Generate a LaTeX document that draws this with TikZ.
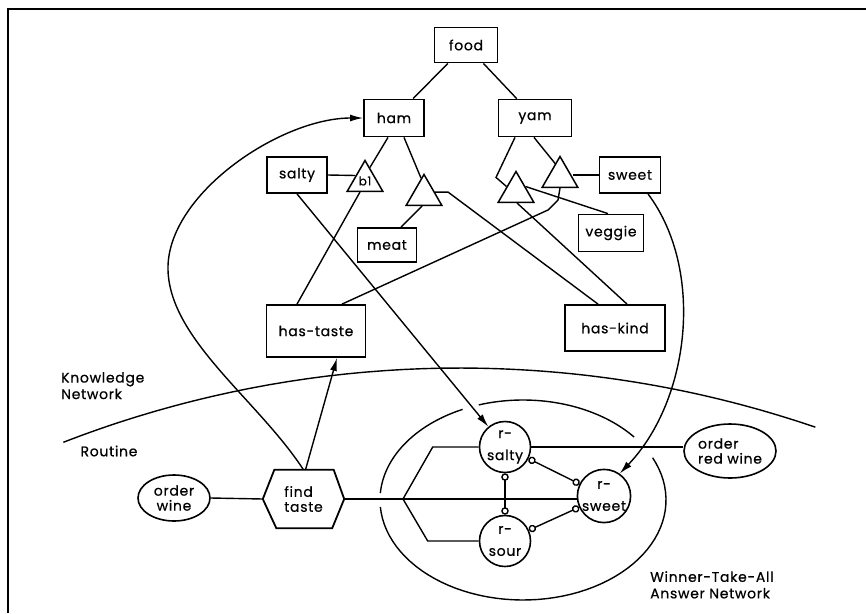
\documentclass[tikz,border=0pt]{standalone}
\usepackage{fontspec}
\setmainfont{Poppins}[LetterSpace=5, FakeBold=0.6]
\usetikzlibrary{arrows.meta,calc,shapes.geometric}
\begin{document}
\begin{tikzpicture}[x=1pt,y=-1pt,
  every node/.style={font=\fontsize{14}{15}\selectfont},
  box/.style={draw, line width=1.8pt, inner sep=0pt},
  tri/.style={draw, regular polygon, regular polygon sides=3, minimum size=41pt, inner sep=0pt, line width=1.5pt},
  rnode/.style={draw, circle, minimum size=51pt, inner sep=0pt, line width=1.6pt, align=center},
  oval/.style={draw, ellipse, inner sep=0pt, line width=1.6pt},
  conn/.style={line width=1.4pt},
  arr/.style={conn, -{Latex[length=13pt,width=7pt]}},
  inh/.style={conn, {Circle[open,length=7.5pt,width=7.5pt]}-{Circle[open,length=7.5pt,width=7.5pt]}},
  lbl/.style={align=left, inner sep=0pt, font=\fontsize{14}{16.5}\selectfont},
]
\useasboundingbox (0,0) rectangle (866,613);
% frame
\draw[line width=1.5pt] (8,613) -- (8,9) -- (866,9);

% knowledge network nodes
\node[box, minimum width=63pt, minimum height=35pt] (food) at (466,45) {food};
\node[box, minimum width=60pt, minimum height=37pt] (ham) at (394,118) {ham};
\node[box, minimum width=73pt, minimum height=37pt] (yam) at (535,118) {yam};
\node[box, minimum width=60pt, minimum height=36pt] (salty) at (297,175) {salty};
\node[box, minimum width=61pt, minimum height=36pt] (sweet) at (630,175) {sweet};
\node[box, minimum width=59pt, minimum height=34pt] (meat) at (387,245) {meat};
\node[box, minimum width=65pt, minimum height=37pt] (veggie) at (611,233) {veggie};
\node[box, minimum width=99pt, minimum height=52pt] (hastaste) at (316,331) {has-taste};
\node[box, minimum width=100pt, minimum height=46pt] (haskind) at (615,328) {has-kind};

\node[tri, font=\fontsize{12}{12}\selectfont] (b1) at (365,181) {b1};
\node[tri] (t2) at (424,195) {};
\node[tri] (tR) at (560,177) {};
\node[tri] (tL) at (516,192) {};

% routine nodes
\node[oval, minimum width=72pt, minimum height=46pt, align=center] (orderwine) at (174,498) {order\\wine};
\node[minimum width=81pt, minimum height=58pt, inner sep=0pt, align=left] (findtaste) at (303.5,499) {find\\taste};
\draw[line width=1.8pt] (findtaste.west) -- ([xshift=11.5pt]findtaste.north west) -- ([xshift=-10.5pt]findtaste.north east) -- (findtaste.east) -- ([xshift=-12pt]findtaste.south east) -- ([xshift=13.5pt]findtaste.south west) -- cycle;
\node[oval, minimum width=92pt, minimum height=54pt, align=left] (orderred) at (730,451) {order\\red wine};

\node[rnode] (rsalty) at (505,447) {r-\\[7pt]salty};
\node[rnode] (rsweet) at (604,496) {r-\\[7pt]sweet};
\node[rnode] (rsour) at (505,541) {r-\\[7pt]sour};

% labels
\node[lbl, anchor=north west] (kn) at (61,372) {Knowledge\\Network};
\node[lbl] (routine) at (109,451) {Routine};
\node[lbl, anchor=north west] (wta) at (650,571) {Winner-Take-All\\Answer Network};

% boundary between knowledge network and routine
\draw[conn] plot[domain=-111.2:-71.1, samples=80, variable=\t] ({460+1097*cos(\t)},{1465+1097*sin(\t)});

% winner-take-all ellipse (broken where lines cross)
\foreach \a/\b in {39/108, 115/176, 184/385}
  \draw[conn] plot[domain=\a:\b, samples=60, variable=\t] ({523+143*cos(\t)},{500-100*sin(\t)});

% knowledge network links
\draw[conn] (food) -- (ham);
\draw[conn] (food) -- (yam);
\draw[conn] ([xshift=-6pt]ham.south) -- (b1.70);
\draw[conn] ([xshift=10pt]ham.south) -- (t2.100);
\draw[conn] (salty.east) -- (b1.side 1);
\draw[conn] ([xshift=-5pt]b1.side 2) -- ([xshift=-19pt]hastaste.north);
\draw[conn] ([xshift=-2pt]t2.side 2) -- ([xshift=14pt]meat.north);
\draw[conn] (t2.15) -- ++(13,0) -- ([xshift=-17pt]haskind.north);
\draw[conn] ([xshift=-20pt]yam.south) -- ++(-19,40) -- (tL.150);
\draw[conn] ([xshift=-1pt]yam.south) -- (tR.110);
\draw[conn] (tR.east |- sweet.west) -- (sweet.west);
\draw[conn] (tR.side 2) -- ++(-2,12) -- ++(-10,10) -- ([xshift=26pt]hastaste.north);
\draw[conn] (tL.side 3) -- ([xshift=-3pt]veggie.north);
\draw[conn] ([xshift=1pt]tL.side 2) -- ([xshift=12pt]haskind.north);

% cross-network arrows
\coordinate (loop) at (168,270);
\draw[arr] (salty.south) -- (rsalty);
\draw[arr] ([xshift=18pt]sweet.south) .. controls (705,270) and (690,400) .. (rsweet.55);
\draw[arr] (findtaste.north) .. controls (258,400) and (170,340) .. (loop) .. controls (166,195) and (280,118) .. (ham.west);
\draw[arr] ([xshift=2pt]findtaste.north) -- ([xshift=21pt]hastaste.south);

% routine links
\draw[conn] (orderwine.east) -- (findtaste.west);
\draw[conn] (findtaste.east) -- (findtaste.east -| rsweet.west);
\coordinate (br) at (403,499);
\draw[conn] (br) -- ([xshift=-46pt]rsalty.west) -- (rsalty.west);
\draw[conn] (br) -- ([xshift=-51pt]rsour.west) -- (rsour.west);
\draw[conn] (rsalty.east) -- (rsalty.east -| orderred.west);

% inhibitory links
\draw[inh] (rsalty) -- (rsour);
\draw[inh] (rsalty) -- (rsweet);
\draw[inh] (rsour) -- (rsweet);
\end{tikzpicture}
\end{document}
